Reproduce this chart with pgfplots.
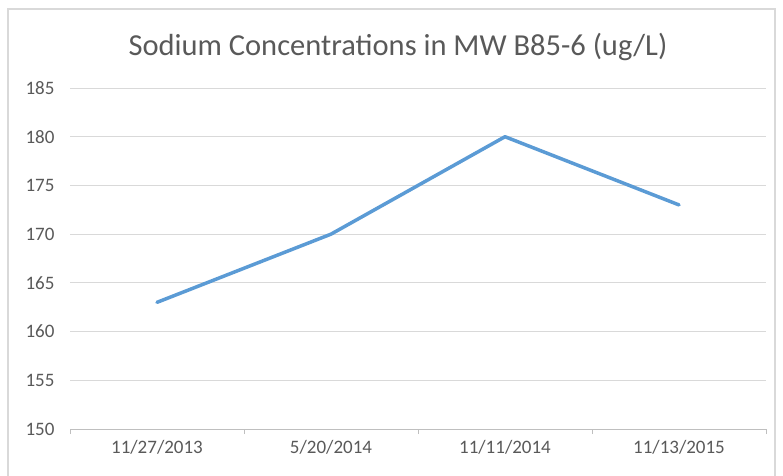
\documentclass[border=0pt]{standalone}
\usepackage{pgfplots}
\pgfplotsset{compat=1.18}
\usepackage{fontspec}
\setmainfont{Carlito}
\definecolor{lineblue}{HTML}{5B9BD5}
\definecolor{gridgray}{HTML}{D9D9D9}
\definecolor{txtgray}{HTML}{595959}
\definecolor{axgray}{HTML}{BFBFBF}
\begin{document}
\begin{tikzpicture}[x=1pt,y=1pt]
\path[use as bounding box] (0,0) rectangle (783,475);
\draw[gridgray, line width=1.2pt] (8,-10) rectangle (775,466);
\node[txtgray, font=\fontsize{30.5}{36}\selectfont] at (398,428) {Sodium Concentrations in MW B85-6 (ug/L)};
\begin{axis}[
  at={(70pt,46pt)}, anchor=south west,
  scale only axis, width=696pt, height=341pt,
  xmin=-0.5, xmax=3.5, ymin=150, ymax=185,
  xtick={0,1,2,3},
  xticklabels={11/27/2013,5/20/2014,11/11/2014,11/13/2015},
  minor xtick={-0.5,0.5,1.5,2.5,3.5},
  ytick={150,155,...,185},
  tick align=outside,
  major tick length=0pt, minor tick length=5pt,
  axis x line*=bottom, axis y line*=left,
  x axis line style={axgray, line width=0.8pt, -},
  y axis line style={draw=none},
  minor tick style={axgray, line width=0.8pt},
  ymajorgrids, grid style={gridgray, line width=0.8pt},
  ticklabel style={txtgray, font=\fontsize{19}{23}\selectfont},
  yticklabel style={xshift=-12pt},
  xticklabel style={yshift=-8pt},
  ytick style={draw=none},
  /pgf/number format/assume math mode=true,
  clip=false,
]
\addplot[lineblue, line width=3.5pt, line join=round, line cap=round] coordinates {(0,163) (1,170) (2,180) (3,173)};
\end{axis}
\end{tikzpicture}
\end{document}
